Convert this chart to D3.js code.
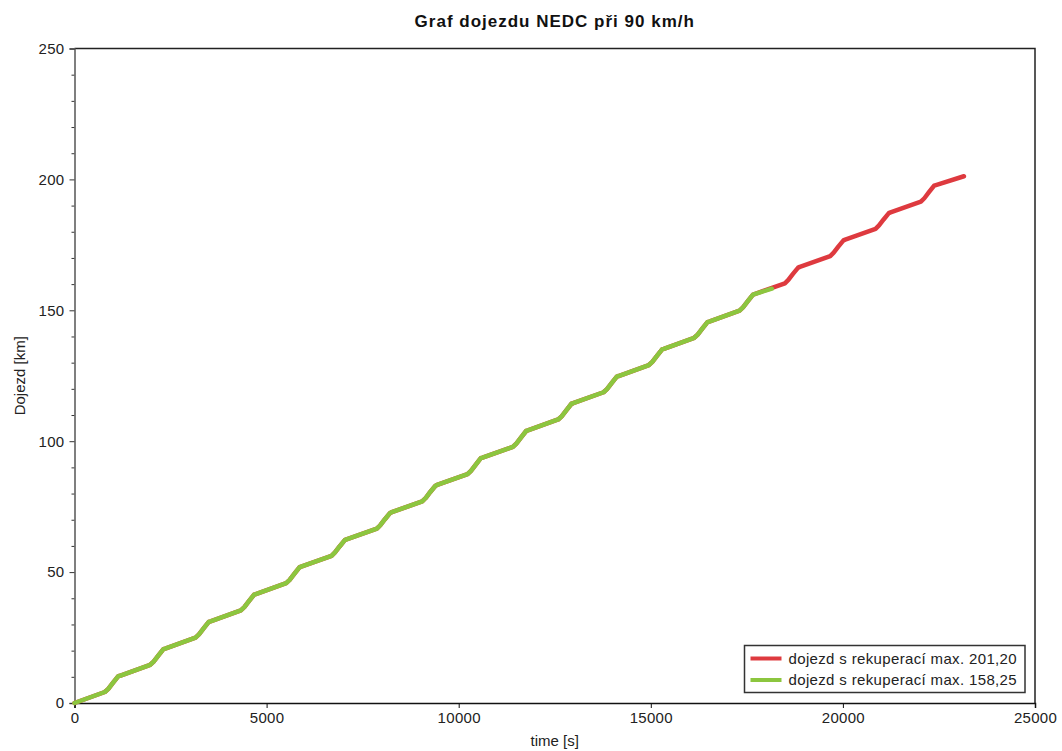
<!DOCTYPE html>
<html>
<head>
<meta charset="utf-8">
<script src="https://cdn.jsdelivr.net/npm/d3@7"></script>
<style>
  html, body { margin: 0; padding: 0; background: #fff; }
  svg { display: block; font-family: "Liberation Sans", Arial, sans-serif; }
</style>
</head>
<body>
<svg id="chart" width="1062" height="751"></svg>
<script>
// Elapsed time [s] and covered distance [km], repeated NEDC cycles
const timeS = [
  0, 790, 880, 1000, 1135,
  1180, 1970, 2060, 2180, 2315,
  2360, 3150, 3240, 3360, 3495,
  3540, 4330, 4420, 4540, 4675,
  4720, 5510, 5600, 5720, 5855,
  5900, 6690, 6780, 6900, 7035,
  7080, 7870, 7960, 8080, 8215,
  8260, 9050, 9140, 9260, 9395,
  9440, 10230, 10320, 10440, 10575,
  10620, 11410, 11500, 11620, 11755,
  11800, 12590, 12680, 12800, 12935,
  12980, 13770, 13860, 13980, 14115,
  14160, 14950, 15040, 15160, 15295,
  15340, 16130, 16220, 16340, 16475,
  16520, 17310, 17400, 17520, 17655,
  17700, 18490, 18580, 18700, 18835,
  18880, 19670, 19760, 19880, 20015,
  20060, 20850, 20940, 21060, 21195,
  21240, 22030, 22120, 22240, 22375,
  22420, 23150
];
const distKm = [
  0, 4.2, 5.4, 7.7, 10.2,
  10.4, 14.6, 15.8, 18.1, 20.6,
  20.8, 25.0, 26.2, 28.5, 31.0,
  31.2, 35.4, 36.6, 38.9, 41.4,
  41.6, 45.8, 47.0, 49.3, 51.8,
  52.1, 56.2, 57.5, 59.8, 62.2,
  62.5, 66.6, 67.9, 70.2, 72.6,
  72.9, 77.0, 78.3, 80.6, 83.0,
  83.3, 87.4, 88.7, 91.0, 93.5,
  93.7, 97.8, 99.1, 101.4, 103.9,
  104.1, 108.3, 109.5, 111.8, 114.3,
  114.5, 118.7, 119.9, 122.2, 124.7,
  124.9, 129.1, 130.3, 132.6, 135.1,
  135.3, 139.5, 140.7, 143.0, 145.5,
  145.7, 149.9, 151.1, 153.4, 155.9,
  156.2, 160.3, 161.6, 163.9, 166.3,
  166.6, 170.7, 172.0, 174.3, 176.7,
  177.0, 181.1, 182.4, 184.7, 187.1,
  187.4, 191.5, 192.8, 195.1, 197.6,
  197.8, 201.2
];
// Maximum range of each run and the time the shorter run ends
const seriesNames = ["dojezd s rekuperací max. 201,20", "dojezd s rekuperací max. 158,25"];
const seriesMaxKm = [201.20, 158.25];
const shortRunEndS = 18150;
const seriesColors = ["#de3a3f", "#8cc63f"];

const xTicks = [0, 5000, 10000, 15000, 20000, 25000];
const yTicks = [0, 50, 100, 150, 200, 250];

const svg = d3.select("#chart");
const m = { left: 74.5, right: 1035, top: 48.5, bottom: 703 };

const x = d3.scaleLinear().domain([0, 25000]).range([m.left, m.right]);
const y = d3.scaleLinear().domain([0, 250]).range([m.bottom, m.top]);

// Build the two runs
const full = timeS.map((t, i) => ({ t, km: distKm[i] }));
full[full.length - 1].km = seriesMaxKm[0];
const shortRun = full.filter(p => p.km < seriesMaxKm[1]).concat([{ t: shortRunEndS, km: seriesMaxKm[1] }]);
const runs = [full, shortRun];

// Frame: top and right edges
svg.append("path")
  .attr("d", `M${m.left},${m.top}H${m.right}V${m.bottom}`)
  .attr("fill", "none").attr("stroke", "#222").attr("stroke-width", 1.5);

// Y axis with minor ticks every 10 km
const yAxis = d3.axisLeft(y).tickValues(yTicks).tickSize(5).tickPadding(5).tickFormat(d3.format("d"));
const yMinor = d3.axisLeft(y).tickValues(d3.range(0, 251, 10).filter(v => v % 50 !== 0)).tickSize(3).tickFormat("");
const gyMinor = svg.append("g").attr("transform", `translate(${m.left},0)`).call(yMinor);
gyMinor.select(".domain").remove();
gyMinor.selectAll("line").attr("stroke", "#333");
const gy = svg.append("g").attr("transform", `translate(${m.left},0)`).call(yAxis);
gy.select(".domain").attr("stroke", "#555").attr("stroke-width", 1.5);
gy.selectAll(".tick line").attr("stroke", "#333");
gy.selectAll("text").attr("font-size", 15).attr("fill", "#222").attr("letter-spacing", 0.3)
  .attr("font-family", "Liberation Sans, Arial, sans-serif");

// X axis
const xAxis = d3.axisBottom(x).tickValues(xTicks).tickSize(5).tickPadding(4).tickFormat(d3.format("d"));
const gx = svg.append("g").attr("transform", `translate(0,${m.bottom})`).call(xAxis);
gx.select(".domain").attr("stroke", "#111").attr("stroke-width", 1.5);
gx.selectAll(".tick line").attr("stroke", "#111");
gx.selectAll("text").attr("font-size", 15).attr("fill", "#222").attr("letter-spacing", 0.3)
  .attr("font-family", "Liberation Sans, Arial, sans-serif");

// Lines: longer run first, shorter run drawn on top
const line = d3.line().x(d => x(d.t)).y(d => y(d.km));
runs.forEach((r, i) => {
  svg.append("path").datum(r)
    .attr("d", line)
    .attr("fill", "none")
    .attr("stroke", seriesColors[i])
    .attr("stroke-width", 4.5)
    .attr("stroke-linejoin", "round")
    .attr("stroke-linecap", "round");
});

// Title and axis titles
svg.append("text").attr("x", (m.left + m.right) / 2).attr("y", 27)
  .attr("text-anchor", "middle").attr("font-size", 17).attr("font-weight", "bold")
  .attr("letter-spacing", 1).attr("fill", "#111").text("Graf dojezdu NEDC při 90 km/h");
svg.append("text").attr("x", (m.left + m.right) / 2).attr("y", 746)
  .attr("text-anchor", "middle").attr("font-size", 15).attr("fill", "#222").text("time [s]");
svg.append("text").attr("transform", `translate(25,${(m.top + m.bottom) / 2}) rotate(-90)`)
  .attr("text-anchor", "middle").attr("font-size", 15).attr("fill", "#222").text("Dojezd [km]");

// Legend
const lg = svg.append("g").attr("transform", "translate(744.5,645.5)");
lg.append("rect").attr("width", 280.5).attr("height", 47)
  .attr("fill", "#fff").attr("stroke", "#333").attr("stroke-width", 1.5);
seriesNames.forEach((name, i) => {
  const cy = 13 + i * 21.5;
  lg.append("line").attr("x1", 6).attr("x2", 37).attr("y1", cy).attr("y2", cy)
    .attr("stroke", seriesColors[i]).attr("stroke-width", 4);
  lg.append("text").attr("x", 44).attr("y", cy + 5).attr("font-size", 15)
    .attr("letter-spacing", 0.35).attr("fill", "#222").text(name);
});
</script>
</body>
</html>
